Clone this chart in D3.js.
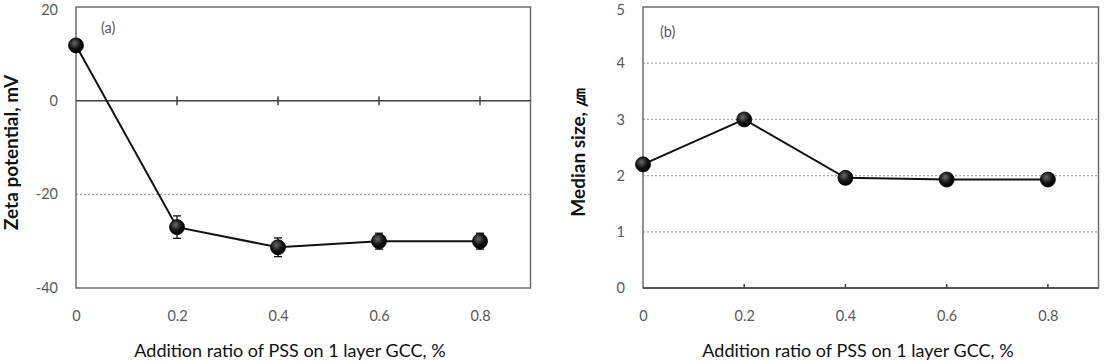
<!DOCTYPE html>
<html><head><meta charset="utf-8">
<script src="https://cdn.jsdelivr.net/npm/d3@7"></script>
<style>
html,body{margin:0;padding:0;background:#fff;}
svg{display:block;}
</style></head>
<body>
<svg id="chart" width="1106" height="362"></svg>
<script>
const xValues = [0, 0.2, 0.4, 0.6, 0.8];
const xTicks = [0, 0.2, 0.4, 0.6, 0.8];
const xTickLabels = ["0", "0.2", "0.4", "0.6", "0.8"];
const zeta = [11.8, -27.0, -31.3, -30.0, -30.0];
const zetaErr = [0, 2.4, 2.0, 1.7, 1.7];
const zetaTicks = [-40, -20, 0, 20];
const zetaGrid = [-20];
const medianSize = [2.2, 3.0, 1.96, 1.93, 1.93];
const sizeTicks = [0, 1, 2, 3, 4, 5];
const sizeGrid = [1, 2, 3, 4];
const xTitle = "Addition ratio of PSS on 1 layer GCC, %";
const zetaTitle = "Zeta potential, mV";
const sizeTitle = "Median size, ㎛";

const svg = d3.select("#chart");
const FONT = "Lato, 'Open Sans', 'Liberation Sans', sans-serif";

const defs = svg.append("defs");
const grad = defs.append("radialGradient").attr("id","ball").attr("cx","40%").attr("cy","35%").attr("r","65%");
grad.append("stop").attr("offset","0%").attr("stop-color","#6a6a6a");
grad.append("stop").attr("offset","60%").attr("stop-color","#111");
grad.append("stop").attr("offset","100%").attr("stop-color","#000");

function panel(opts) {
  const {left, right, top, bottom, yDomain, yTicks, grid, values, errs, yTitle, tag, tagX, tagY, axisAtZero, titleX, xTitleX} = opts;
  const x = d3.scaleLinear().domain([0, 0.9]).range([left, right]);
  const y = d3.scaleLinear().domain(yDomain).range([bottom, top]);
  const g = svg.append("g");

  g.selectAll(".grid").data(grid).join("line")
    .attr("x1", left).attr("x2", right)
    .attr("y1", d => y(d)).attr("y2", d => y(d))
    .attr("stroke", "#a6a6a6").attr("stroke-width", 1.2).attr("stroke-dasharray", "2,2");

  g.append("rect").attr("x", left).attr("y", top).attr("width", right - left).attr("height", bottom - top)
    .attr("fill", "none").attr("stroke", "#6e6e6e").attr("stroke-width", 1.5);

  const axisY = axisAtZero ? y(0) : bottom;
  g.append("line").attr("x1", left).attr("x2", right).attr("y1", axisY).attr("y2", axisY)
    .attr("stroke", "#404040").attr("stroke-width", 1.5);
  g.selectAll(".tk").data(xTicks.slice(1)).join("line")
    .attr("x1", d => x(d)).attr("x2", d => x(d))
    .attr("y1", axisAtZero ? axisY - 4.5 : axisY - 4)
    .attr("y2", axisAtZero ? axisY + 4.5 : axisY)
    .attr("stroke", "#404040").attr("stroke-width", 1.5);

  const xa = g.append("g").attr("transform", `translate(0,${bottom})`)
    .call(d3.axisBottom(x).tickValues(xTicks).tickFormat((d, i) => xTickLabels[i]).tickSize(0).tickPadding(23));
  xa.select(".domain").remove();
  xa.selectAll("text").attr("font-family", FONT).attr("font-size", 14.5).attr("fill", "#595959");

  const ya = g.append("g").attr("transform", `translate(${left},0)`)
    .call(d3.axisLeft(y).tickValues(yTicks).tickFormat(d => String(d)).tickSize(0).tickPadding(18));
  ya.select(".domain").remove();
  ya.selectAll("text").attr("font-family", FONT).attr("font-size", 14.5).attr("fill", "#595959")
    .attr("dy", d => d === yDomain[1] ? "0.55em" : "0.32em");

  const pts = xValues.map((d, i) => [d, values[i]]);
  g.append("path").datum(pts)
    .attr("d", d3.line().x(d => x(d[0])).y(d => y(d[1])))
    .attr("fill", "none").attr("stroke", "#111").attr("stroke-width", 2);

  if (errs) {
    const eg = g.selectAll(".err").data(pts.map((p, i) => [p[0], p[1], errs[i]]).filter(d => d[2] > 0)).join("g");
    eg.append("line").attr("x1", d => x(d[0])).attr("x2", d => x(d[0]))
      .attr("y1", d => y(d[1] - d[2])).attr("y2", d => y(d[1] + d[2]))
      .attr("stroke", "#111").attr("stroke-width", 1.3);
    eg.append("line").attr("x1", d => x(d[0]) - 4).attr("x2", d => x(d[0]) + 4)
      .attr("y1", d => y(d[1] - d[2])).attr("y2", d => y(d[1] - d[2]))
      .attr("stroke", "#111").attr("stroke-width", 1.3);
    eg.append("line").attr("x1", d => x(d[0]) - 4).attr("x2", d => x(d[0]) + 4)
      .attr("y1", d => y(d[1] + d[2])).attr("y2", d => y(d[1] + d[2]))
      .attr("stroke", "#111").attr("stroke-width", 1.3);
  }

  g.selectAll(".pt").data(pts).join("circle")
    .attr("cx", d => x(d[0])).attr("cy", d => y(d[1])).attr("r", 7.5)
    .attr("fill", "url(#ball)").attr("stroke", "#000").attr("stroke-width", 0.8);

  g.append("text").attr("x", tagX).attr("y", tagY).text(tag)
    .attr("font-family", FONT).attr("font-size", 14.5).attr("fill", "#595959").attr("dominant-baseline", "middle");

  g.append("text").attr("transform", `translate(${titleX},${(top + bottom) / 2 + 5}) rotate(-90)`)
    .attr("text-anchor", "middle").attr("dominant-baseline", "middle")
    .attr("font-family", FONT).attr("font-size", 19).attr("font-weight", "bold").attr("fill", "#111")
    .text(yTitle);

  g.append("text").attr("x", xTitleX).attr("y", 352).attr("text-anchor", "middle").attr("dominant-baseline", "middle")
    .attr("font-family", FONT).attr("font-size", 18).attr("fill", "#111")
    .text(xTitle);
}

panel({left: 76, right: 530.5, top: 7, bottom: 288, yDomain: [-40, 20], yTicks: zetaTicks, grid: zetaGrid,
  values: zeta, errs: zetaErr, yTitle: zetaTitle, tag: "(a)", tagX: 101, tagY: 29, axisAtZero: true, titleX: 13, xTitleX: 290});
panel({left: 643, right: 1098.5, top: 7, bottom: 288, yDomain: [0, 5], yTicks: sizeTicks, grid: sizeGrid,
  values: medianSize, errs: null, yTitle: sizeTitle, tag: "(b)", tagX: 660, tagY: 33, axisAtZero: false, titleX: 580, xTitleX: 858});
</script>
</body></html>
